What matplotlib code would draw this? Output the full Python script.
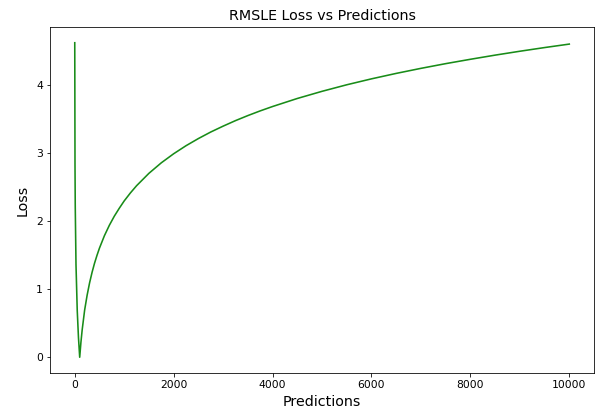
import matplotlib
matplotlib.use('Agg')
import matplotlib.pyplot as plt

# values
predictions = [0, 5, 10, 25, 50, 75, 100, 125, 150, 200, 250, 300, 350, 400, 450, 500,
               600, 700, 800, 900, 1000, 1125, 1250, 1500, 1750, 2000, 2250, 2500, 2750,
               3000, 3250, 3500, 3750, 4000, 4500, 5000, 5500, 6000, 6500, 7000, 7500,
               8000, 8500, 9000, 9500, 10000]
loss = [4.615, 2.82, 2.22, 1.36, 0.69, 0.29, 0.0, 0.221, 0.402, 0.693, 0.910, 1.092,
        1.246, 1.380, 1.496, 1.602, 1.784, 1.937, 2.070, 2.186, 2.294, 2.411, 2.517,
        2.699, 2.853, 2.986, 3.104, 3.209, 3.305, 3.391, 3.472, 3.546, 3.615, 3.679,
        3.797, 3.902, 3.998, 4.085, 4.165, 4.239, 4.308, 4.372, 4.433, 4.490, 4.544,
        4.595]

fig = plt.figure(figsize=(597 / 72, 418 / 72), dpi=72)
ax = fig.add_axes([0.0838, 0.1077, 0.9112, 0.8277])

ax.plot(predictions, loss, color='green', alpha=0.9, linewidth=1.6)

ax.set_title('RMSLE Loss vs Predictions', fontsize=14.3, pad=7)
ax.set_xlabel('Predictions', fontsize=14.3, labelpad=5)
ax.set_ylabel('Loss', fontsize=14.3, labelpad=7)
ax.set_xticks([0, 2000, 4000, 6000, 8000, 10000])
ax.tick_params(labelsize=10.7)

fig.savefig('out.png', dpi=72)
